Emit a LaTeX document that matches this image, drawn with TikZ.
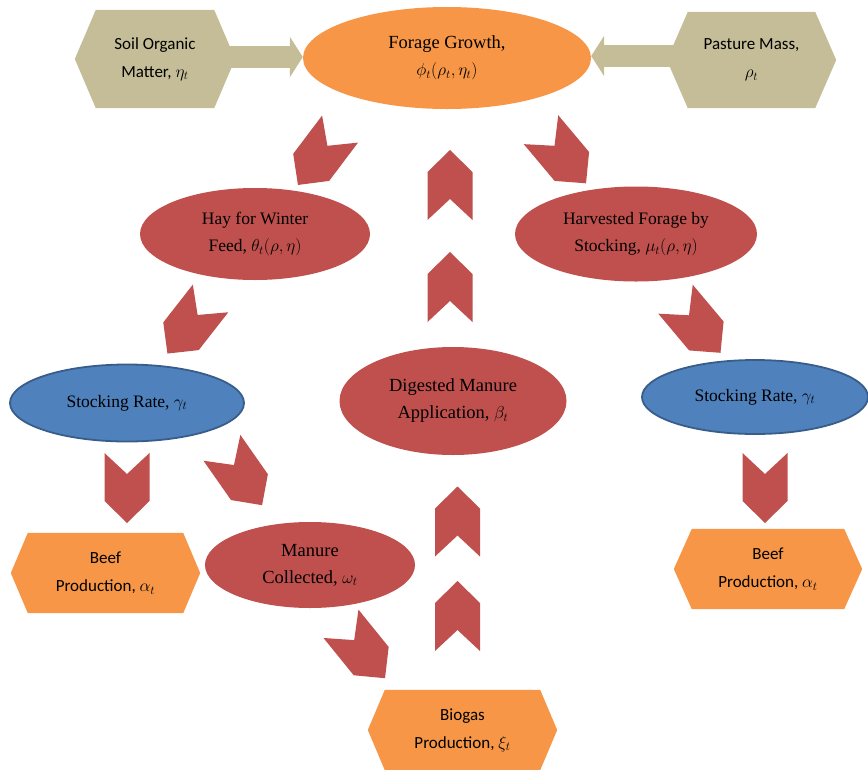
\documentclass[tikz,border=0pt]{standalone}
\usepackage{fontspec}
\setmainfont{Liberation Serif}
\newfontfamily\carlito{Carlito}
\usetikzlibrary{shapes.geometric,arrows.meta,backgrounds}
\definecolor{tanc}{HTML}{C4BD97}
\definecolor{orangec}{HTML}{F79646}
\definecolor{redc}{HTML}{C0504D}
\definecolor{bluec}{HTML}{4F81BD}
\definecolor{blueline}{HTML}{385D8A}
\tikzset{
  ell/.style={ellipse, inner sep=0pt, align=center, font=\fontsize{17.5}{27}\selectfont},
  redell/.style={ell, fill=redc},
  blueell/.style={ell, fill=bluec, draw=blueline, line width=1.8pt},
  hexbox/.style={rectangle, inner sep=0pt, align=center, font=\carlito\fontsize{17}{28}\selectfont},
  tanarrow/.style={draw=tanc, line width=22pt, -{Triangle[width=40pt,length=13pt]}},
  chev/.pic={\fill[redc] (-35,22.5) -- (13,22.5) -- (35,0) -- (13,-22.5) -- (-35,-22.5) -- (-14,0) -- cycle;}
}
\newcommand\hexfill[3]{\fill[#3] (#1.north west) -- (#1.north east) -- ([xshift=#2]#1.east) -- (#1.south east) -- (#1.south west) -- ([xshift=-#2]#1.west) -- cycle;}
\begin{document}
\begin{tikzpicture}[x=1pt,y=-1pt]
\useasboundingbox (0,0) rectangle (868,769);
% ellipses
\node[ell, fill=orangec, minimum width=288pt, minimum height=102pt, font=\fontsize{18.5}{27}\selectfont] (forage) at (447,58) {Forage Growth,\\$\phi_t(\rho_t,\eta_t)$};
\node[redell, minimum width=230pt, minimum height=92pt] (hay) at (255,234) {Hay for Winter\\Feed, $\theta_t(\rho,\eta)$};
\node[redell, minimum width=242pt, minimum height=95pt] (harv) at (636,234) {Harvested Forage by\\Stocking, $\mu_t(\rho,\eta)$};
\node[blueell, minimum width=234pt, minimum height=77pt] (stockL) at (127,403) {Stocking Rate, $\gamma_t$};
\node[blueell, minimum width=226pt, minimum height=74pt] (stockR) at (755,397) {Stocking Rate, $\gamma_t$};
\node[redell, minimum width=227pt, minimum height=108pt, font=\fontsize{18.5}{27}\selectfont] (dig) at (453,401) {Digested Manure\\Application, $\beta_t$};
\node[redell, minimum width=210pt, minimum height=86pt, font=\fontsize{18.5}{27}\selectfont] (man) at (310,565) {Manure\\Collected, $\omega_t$};
% hexagon nodes
\node[hexbox, minimum width=118pt, minimum height=98pt] (soil) at (155,59) {Soil Organic\\Matter, $\eta_t$};
\node[hexbox, minimum width=127pt, minimum height=96pt] (past) at (751.5,60) {Pasture Mass,\\$\rho_t$};
\node[hexbox, minimum width=155pt, minimum height=80pt] (beefL) at (105.5,573) {Beef\\Production, $\alpha_t$};
\node[hexbox, minimum width=152pt, minimum height=80pt] (beefR) at (768,569) {Beef\\Production, $\alpha_t$};
\node[hexbox, minimum width=155pt, minimum height=80pt] (bio) at (462.5,730) {Biogas\\Production, $\xi_t$};
\begin{scope}[on background layer]
  \draw[tanarrow] ([yshift=2pt]soil.east) -- ([yshift=2pt]soil.east -| forage.west);
  \draw[tanarrow] ([yshift=4pt]past.west) -- ([yshift=4pt]past.west -| forage.east);
  \hexfill{soil}{21pt}{tanc}
  \hexfill{past}{21pt}{tanc}
  \hexfill{beefL}{17pt}{orangec}
  \hexfill{beefR}{18pt}{orangec}
  \hexfill{bio}{17pt}{orangec}
\end{scope}
% chevron connectors
\pic[rotate=-127] at (319,157) {chev};
\pic[rotate=-50] at (563.5,156.5) {chev};
\pic[rotate=-128] at (189,326) {chev};
\pic[rotate=-50] at (698,326) {chev};
\pic[rotate=-90] at (127,488) {chev};
\pic[rotate=-90] at (765,488) {chev};
\pic[rotate=-55] at (242,476.5) {chev};
\pic[rotate=-51] at (363,651) {chev};
\pic[rotate=90] at (450,185) {chev};
\pic[rotate=90] at (450,287) {chev};
\pic[rotate=90] at (457.5,521.5) {chev};
\pic[rotate=90] at (457.5,616) {chev};
\end{tikzpicture}
\end{document}
